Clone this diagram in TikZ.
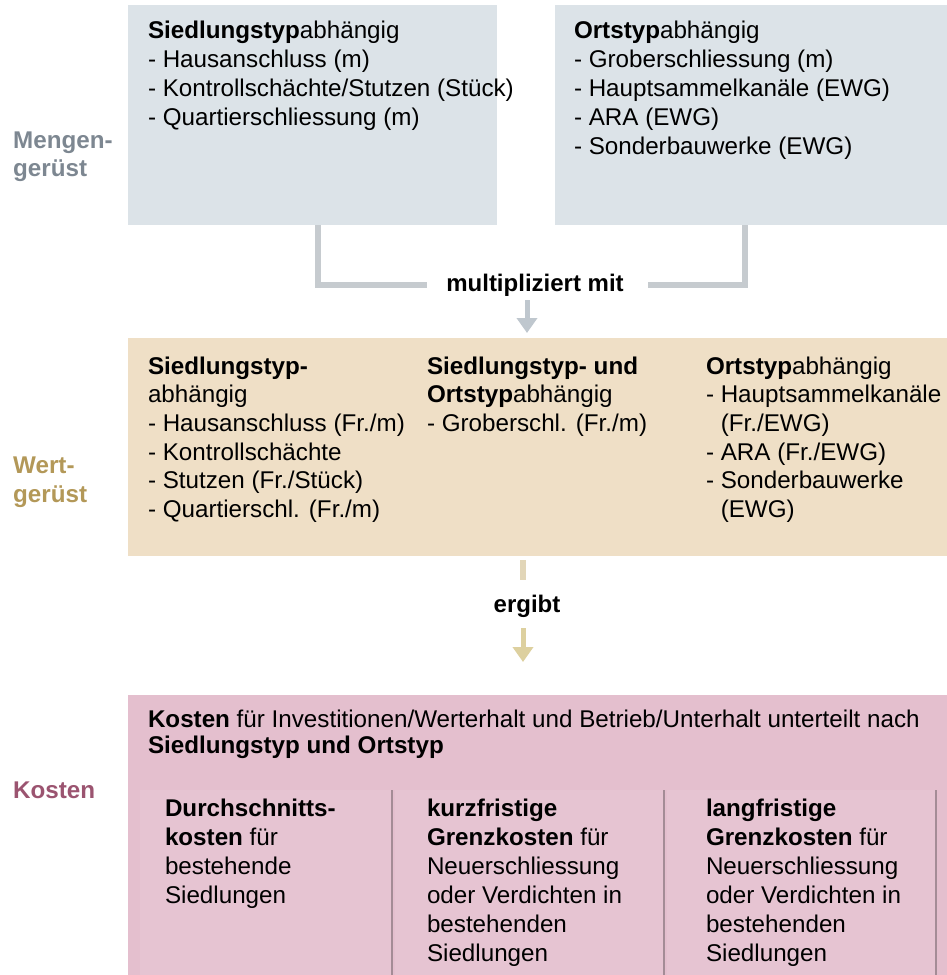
\documentclass[tikz,border=0pt]{standalone}
\usepackage{fontspec}
\setmainfont{Liberation Sans}
\usetikzlibrary{arrows.meta}
\definecolor{mengen}{HTML}{DCE3E8}
\definecolor{wert}{HTML}{EFDFC6}
\definecolor{kosten}{HTML}{E4BFCE}
\definecolor{kostcol}{HTML}{E6C4D2}
\definecolor{colshadow}{HTML}{A48C96}
\definecolor{conngray}{HTML}{C6CBCF}
\definecolor{arrgray}{HTML}{BFC7CE}
\definecolor{arrtan}{HTML}{DDD09F}
\definecolor{segtan}{HTML}{E2D6B8}
\definecolor{lblmengen}{HTML}{7D8791}
\definecolor{lblwert}{HTML}{B39858}
\definecolor{lblkosten}{HTML}{9B5470}
\newcommand\mylines[3]{\parbox[t]{#2}{\raggedright\baselineskip=#1\relax #3\par}}
\begin{document}
\begin{tikzpicture}[x=1pt,y=-1pt,
  font=\fontsize{24.2}{29}\selectfont,
  panel/.style={draw=none, anchor=north west, inner sep=0, outer sep=0},
  txt/.style={anchor=base west, inner sep=0, outer sep=0, text=black},
  lbl/.style={anchor=base west, inner sep=0, font=\fontsize{24.2}{29}\selectfont\bfseries},
  conn/.style={line width=6pt, color=conngray},
  mid/.style={anchor=base, inner sep=0, font=\fontsize{24}{29}\selectfont\bfseries}]
\useasboundingbox (0,0) rectangle (947,975);
% panels
\node[panel, fill=mengen, minimum width=369pt, minimum height=220pt] (mL) at (128,5) {};
\node[panel, fill=mengen, minimum width=392pt, minimum height=220pt] (mR) at (555,5) {};
\node[panel, fill=wert, minimum width=819pt, minimum height=218pt] (w) at (128,338) {};
\node[panel, fill=kosten, minimum width=819pt, minimum height=280pt] (k) at (128,695) {};
% kosten columns
\node[panel, fill=kostcol, minimum width=252pt, minimum height=185pt] (c1) at (140,790) {};
\node[panel, fill=kostcol, minimum width=269pt, minimum height=185pt] (c2) at (395,790) {};
\node[panel, fill=kostcol, minimum width=269pt, minimum height=185pt] (c3) at (667,790) {};
\foreach \c in {c1,c2,c3}{
  \draw[colshadow, line width=2.5pt] (\c.north east) -- (\c.south east);
}
% labels
\node[lbl, text=lblmengen] (lm1) at (13,148) {Mengen-};
\node[lbl, text=lblmengen] (lm2) at (13,176) {gerüst};
\node[lbl, text=lblwert] (lw1) at (13,473) {Wert-};
\node[lbl, text=lblwert] (lw2) at (13,502) {gerüst};
\node[lbl, text=lblkosten] (lk) at (13,798) {Kosten};
% top texts
\node[txt] (tL) at (148,38) {\mylines{29pt}{400pt}{\textbf{Siedlungstyp}abhängig\\
- Hausanschluss (m)\\
- Kontrollschächte/Stutzen (Stück)\\
- Quartierschliessung (m)}};
\node[txt] (tR) at (574,38) {\mylines{29pt}{400pt}{\textbf{Ortstyp}abhängig\\
- Groberschliessung (m)\\
- Hauptsammelkanäle (EWG)\\
- ARA (EWG)\\
- Sonderbauwerke (EWG)}};
% connector multipliziert
\coordinate (jl) at (318,285);
\coordinate (jr) at (745,285);
\node[mid] (mult) at (535,291) {multipliziert mit};
\draw[conn] (mL.south -| jl) -- (jl) -- (427,285);
\draw[conn] (648,285) -- (jr) -- (mR.south -| jr);
\coordinate (a1) at (527,300);
\draw[line width=5pt, arrgray, -{Triangle[width=20pt,length=15pt]}] (a1) -- ([yshift=5pt]a1 |- w.north);
% wert texts
\node[txt] (w1) at (148,374) {\mylines{28.7pt}{300pt}{\textbf{Siedlungstyp-}\\
abhängig\\
- Hausanschluss (Fr./m)\\
- Kontrollschächte\\
- Stutzen (Fr./Stück)\\
- Quartierschl. (Fr./m)}};
\node[txt] (w2) at (427,374) {\mylines{28.7pt}{300pt}{\textbf{Siedlungstyp- und}\\
\textbf{Ortstyp}abhängig\\
- Groberschl. (Fr./m)}};
\node[txt] (w3) at (706,374) {\mylines{28.7pt}{260pt}{\textbf{Ortstyp}abhängig\\
- Hauptsammelkanäle\\
\phantom{- }(Fr./EWG)\\
- ARA (Fr./EWG)\\
- Sonderbauwerke\\
\phantom{- }(EWG)}};
% ergibt
\coordinate (s1) at (523,560);
\coordinate (s2) at (523,580);
\draw[line width=6pt, segtan] (s1 |- w.south) ++(0,4) -- (s2);
\node[mid] (erg) at (527,612) {ergibt};
\coordinate (a2) at (523,628);
\draw[line width=5pt, arrtan, -{Triangle[width=20pt,length=15pt]}] (a2) -- (523,662);
% kosten texts
\node[txt] (kh) at (148,727) {\mylines{26pt}{820pt}{\textbf{Kosten} für Investitionen/Werterhalt und Betrieb/Unterhalt unterteilt nach\\
\textbf{Siedlungstyp und Ortstyp}}};
\node[txt] (k1) at (165,816) {\mylines{29pt}{225pt}{\textbf{Durchschnitts-}\\
\textbf{kosten} für\\
bestehende\\
Siedlungen}};
\node[txt] (k2) at (427,816) {\mylines{29pt}{235pt}{\textbf{kurzfristige}\\
\textbf{Grenzkosten} für\\
Neuerschliessung\\
oder Verdichten in\\
bestehenden\\
Siedlungen}};
\node[txt] (k3) at (706,816) {\mylines{29pt}{235pt}{\textbf{langfristige}\\
\textbf{Grenzkosten} für\\
Neuerschliessung\\
oder Verdichten in\\
bestehenden\\
Siedlungen}};
\end{tikzpicture}
\end{document}
